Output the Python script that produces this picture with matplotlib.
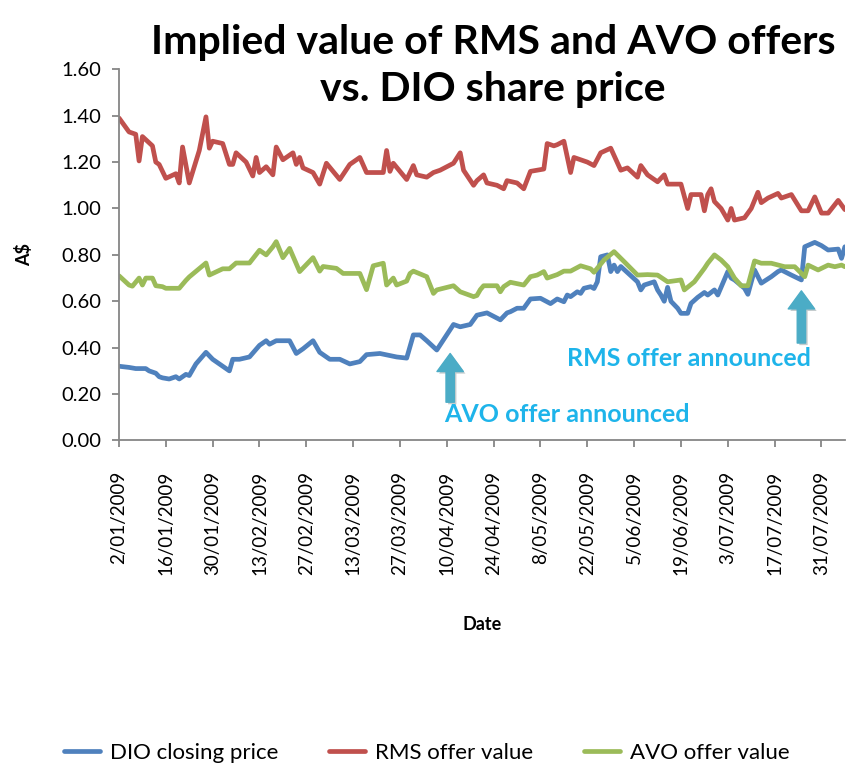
import matplotlib
matplotlib.use("Agg")
import matplotlib.pyplot as plt
import matplotlib.patheffects as pe
import pandas as pd

plt.rcParams['font.family'] = ['Lato', 'DejaVu Sans']

# DIO closing price (A$)
dio_dates = ["01-02", "01-05", "01-07", "01-10", "01-11", "01-13", "01-14", "01-15", "01-17", "01-19",
             "01-20", "01-22", "01-23", "01-25", "01-28", "01-30", "02-02", "02-04", "02-05", "02-07",
             "02-10", "02-13", "02-15", "02-16", "02-18", "02-22", "02-24", "02-26", "03-01", "03-03",
             "03-06", "03-09", "03-12", "03-15", "03-17", "03-21", "03-26", "03-29", "03-31", "04-02",
             "04-04", "04-07", "04-12", "04-14", "04-17", "04-19", "04-22", "04-26", "04-28", "04-29",
             "05-01", "05-03", "05-04", "05-05", "05-08", "05-11", "05-13", "05-15", "05-16", "05-17",
             "05-19", "05-20", "05-21", "05-23", "05-24", "05-25", "05-26", "05-28", "05-29", "05-30",
             "05-31", "06-01", "06-06", "06-07", "06-08", "06-11", "06-12", "06-13", "06-14", "06-15",
             "06-16", "06-18", "06-19", "06-21", "06-22", "06-24", "06-26", "06-27", "06-29", "06-30",
             "07-03", "07-04", "07-05", "07-08", "07-09", "07-11", "07-13", "07-16", "07-18", "07-19",
             "07-22", "07-25", "07-26", "07-29", "07-31", "08-02", "08-05", "08-06", "08-07"]
dio_values = [0.32, 0.315, 0.31, 0.31, 0.30, 0.29, 0.275, 0.27, 0.265, 0.275,
              0.265, 0.285, 0.28, 0.33, 0.38, 0.35, 0.32, 0.30, 0.35, 0.35,
              0.36, 0.41, 0.43, 0.415, 0.43, 0.43, 0.375, 0.395, 0.43, 0.38,
              0.35, 0.35, 0.33, 0.34, 0.37, 0.375, 0.36, 0.355, 0.455, 0.455,
              0.43, 0.39, 0.50, 0.49, 0.50, 0.54, 0.55, 0.52, 0.55, 0.555,
              0.57, 0.57, 0.59, 0.61, 0.613, 0.59, 0.61, 0.598, 0.627, 0.62,
              0.641, 0.634, 0.656, 0.663, 0.655, 0.684, 0.792, 0.80, 0.728, 0.756,
              0.728, 0.75, 0.684, 0.649, 0.67, 0.684, 0.649, 0.627, 0.60, 0.66,
              0.60, 0.57, 0.548, 0.548, 0.591, 0.617, 0.638, 0.627, 0.649, 0.627,
              0.728, 0.70, 0.692, 0.656, 0.63, 0.735, 0.678, 0.706, 0.728, 0.735,
              0.713, 0.692, 0.835, 0.854, 0.84, 0.821, 0.825, 0.785, 0.835]

# RMS offer value (A$)
rms_dates = ["01-02", "01-05", "01-07", "01-08", "01-09", "01-12", "01-13", "01-14", "01-16", "01-19",
             "01-20", "01-21", "01-23", "01-26", "01-28", "01-29", "01-30", "02-02", "02-04", "02-05",
             "02-06", "02-09", "02-11", "02-12", "02-13", "02-15", "02-17", "02-18", "02-20", "02-23",
             "02-24", "02-25", "02-26", "03-01", "03-03", "03-05", "03-09", "03-12", "03-15", "03-17",
             "03-22", "03-23", "03-24", "03-25", "03-29", "03-31", "04-01", "04-04", "04-06", "04-08",
             "04-12", "04-14", "04-15", "04-18", "04-19", "04-21", "04-22", "04-25", "04-27", "04-28",
             "05-01", "05-03", "05-05", "05-09", "05-10", "05-12", "05-13", "05-15", "05-17", "05-18",
             "05-22", "05-24", "05-26", "05-29", "06-01", "06-03", "06-06", "06-07", "06-09", "06-12",
             "06-14", "06-15", "06-19", "06-21", "06-22", "06-25", "06-26", "06-27", "06-28", "06-29",
             "07-01", "07-03", "07-04", "07-05", "07-08", "07-10", "07-12", "07-13", "07-15", "07-18",
             "07-19", "07-22", "07-25", "07-27", "07-29", "07-31", "08-02", "08-05", "08-07"]
rms_values = [1.39, 1.33, 1.32, 1.205, 1.31, 1.27, 1.20, 1.19, 1.13, 1.15,
              1.11, 1.265, 1.11, 1.25, 1.395, 1.26, 1.29, 1.28, 1.19, 1.19,
              1.24, 1.20, 1.14, 1.22, 1.155, 1.18, 1.145, 1.265, 1.21, 1.24,
              1.19, 1.22, 1.175, 1.155, 1.105, 1.195, 1.125, 1.19, 1.22, 1.155,
              1.155, 1.25, 1.16, 1.195, 1.125, 1.185, 1.145, 1.135, 1.155, 1.165,
              1.195, 1.24, 1.165, 1.10, 1.12, 1.145, 1.11, 1.10, 1.085, 1.12,
              1.11, 1.085, 1.16, 1.17, 1.28, 1.27, 1.275, 1.29, 1.155, 1.22,
              1.20, 1.185, 1.24, 1.26, 1.165, 1.175, 1.135, 1.185, 1.145, 1.115,
              1.145, 1.105, 1.105, 1.00, 1.06, 1.06, 0.99, 1.06, 1.085, 1.03,
              1.00, 0.95, 1.00, 0.95, 0.96, 1.00, 1.07, 1.025, 1.045, 1.065,
              1.045, 1.06, 0.99, 0.99, 1.05, 0.98, 0.98, 1.035, 0.995]

# AVO offer value (A$)
avo_dates = ["01-02", "01-05", "01-06", "01-08", "01-09", "01-10", "01-12", "01-13", "01-15", "01-16",
             "01-20", "01-22", "01-23", "01-28", "01-29", "02-02", "02-04", "02-06", "02-10", "02-13",
             "02-15", "02-17", "02-18", "02-20", "02-22", "02-25", "03-01", "03-03", "03-04", "03-08",
             "03-10", "03-15", "03-17", "03-19", "03-22", "03-23", "03-25", "03-26", "03-29", "03-30",
             "03-31", "04-04", "04-06", "04-07", "04-12", "04-14", "04-18", "04-19", "04-20", "04-21",
             "04-25", "04-26", "04-27", "04-29", "05-03", "05-05", "05-07", "05-09", "05-10", "05-13",
             "05-15", "05-17", "05-20", "05-23", "05-24", "05-27", "05-30", "06-02", "06-06", "06-09",
             "06-12", "06-15", "06-19", "06-20", "06-23", "06-26", "06-27", "06-29", "07-01", "07-03",
             "07-05", "07-07", "07-09", "07-11", "07-13", "07-16", "07-20", "07-23", "07-26", "07-27",
             "07-30", "08-02", "08-04", "08-06", "08-07"]
avo_values = [0.71, 0.67, 0.665, 0.70, 0.67, 0.70, 0.70, 0.667, 0.663, 0.656,
              0.656, 0.69, 0.705, 0.765, 0.713, 0.74, 0.74, 0.765, 0.765, 0.82,
              0.80, 0.835, 0.857, 0.788, 0.828, 0.728, 0.788, 0.73, 0.75, 0.742,
              0.72, 0.72, 0.65, 0.753, 0.764, 0.67, 0.70, 0.67, 0.687, 0.72,
              0.73, 0.706, 0.634, 0.649, 0.667, 0.641, 0.62, 0.625, 0.65, 0.667,
              0.667, 0.641, 0.663, 0.682, 0.67, 0.706, 0.713, 0.728, 0.70, 0.715,
              0.73, 0.73, 0.753, 0.74, 0.725, 0.778, 0.814, 0.771, 0.713, 0.715,
              0.713, 0.684, 0.692, 0.649, 0.684, 0.742, 0.764, 0.80, 0.778, 0.749,
              0.70, 0.667, 0.667, 0.774, 0.764, 0.764, 0.749, 0.749, 0.706, 0.756,
              0.735, 0.756, 0.749, 0.756, 0.749]

tick_labels = ["2/01/2009", "16/01/2009", "30/01/2009", "13/02/2009", "27/02/2009", "13/03/2009",
               "27/03/2009", "10/04/2009", "24/04/2009", "8/05/2009", "22/05/2009", "5/06/2009",
               "19/06/2009", "3/07/2009", "17/07/2009", "31/07/2009"]

# offer announcements: (date, arrow tip, arrow tail)
avo_announce = ("2009-04-11", 0.375, 0.165)
rms_announce = ("2009-07-25", 0.645, 0.42)


def to_dates(lst):
    return pd.to_datetime(["2009-" + d for d in lst])


fig = plt.figure(figsize=(8.47, 7.69), dpi=100)
ax = fig.add_axes([0.1405, 0.4272, 0.857, 0.4827])

line_kw = dict(lw=3.4, solid_joinstyle='round', solid_capstyle='round')
ax.plot(to_dates(dio_dates), dio_values, color='#4f81bd', label='DIO closing price', **line_kw)
ax.plot(to_dates(rms_dates), rms_values, color='#c0504d', label='RMS offer value', **line_kw)
ax.plot(to_dates(avo_dates), avo_values, color='#9bbb59', label='AVO offer value', **line_kw)

ax.set_ylim(0, 1.6)
ax.set_yticks([0, 0.2, 0.4, 0.6, 0.8, 1.0, 1.2, 1.4, 1.6])
ax.yaxis.set_major_formatter(plt.FuncFormatter(lambda v, p: f"{v:.2f}"))
ax.set_xlim(pd.Timestamp("2009-01-02"), pd.Timestamp("2009-08-07"))
ax.set_xticks(pd.to_datetime(tick_labels, dayfirst=True))
ax.set_xticklabels(tick_labels, rotation=90)

for s in ['top', 'right']:
    ax.spines[s].set_visible(False)
for s in ['left', 'bottom']:
    ax.spines[s].set_color('#868686')
    ax.spines[s].set_linewidth(1.3)
ax.tick_params(axis='both', colors='#868686', labelcolor='black', length=5, width=1.3)
ax.tick_params(axis='y', pad=8, labelsize=14.5)
ax.tick_params(axis='x', pad=17, labelsize=13.5)

ax.set_ylabel('A$', fontsize=13, fontweight='bold', labelpad=20)
ax.set_xlabel('Date', fontsize=13, fontweight='bold', labelpad=29)

fig.text(0.582, 0.945, 'Implied value of RMS and AVO offers', ha='center', va='center',
         fontsize=29.5, fontweight='bold')
fig.text(0.582, 0.883, 'vs. DIO share price', ha='center', va='center',
         fontsize=29.5, fontweight='bold')

# offer announcement arrows
shadow = [pe.SimplePatchShadow(offset=(1.5, -1.5), alpha=0.25), pe.Normal()]
arrow_kw = dict(color='#4bacc6', width=6, headwidth=19, headlength=13, shrink=0)
for d, tip, tail in (avo_announce, rms_announce):
    a = ax.annotate('', xy=(pd.Timestamp(d), tip), xytext=(pd.Timestamp(d), tail), arrowprops=arrow_kw)
    a.arrow_patch.set_path_effects(shadow)
fig.text(0.669, 0.461, 'AVO offer announced', ha='center', va='center', fontsize=18,
         fontweight='bold', color='#1eb4ea')
fig.text(0.813, 0.534, 'RMS offer announced', ha='center', va='center', fontsize=18,
         fontweight='bold', color='#1eb4ea')

fig.legend(loc='center', bbox_to_anchor=(0.504, 0.021), ncol=3, frameon=False,
           fontsize=16, handlelength=1.6, columnspacing=2.3, handletextpad=0.45)

fig.savefig('out.png', dpi=100)
